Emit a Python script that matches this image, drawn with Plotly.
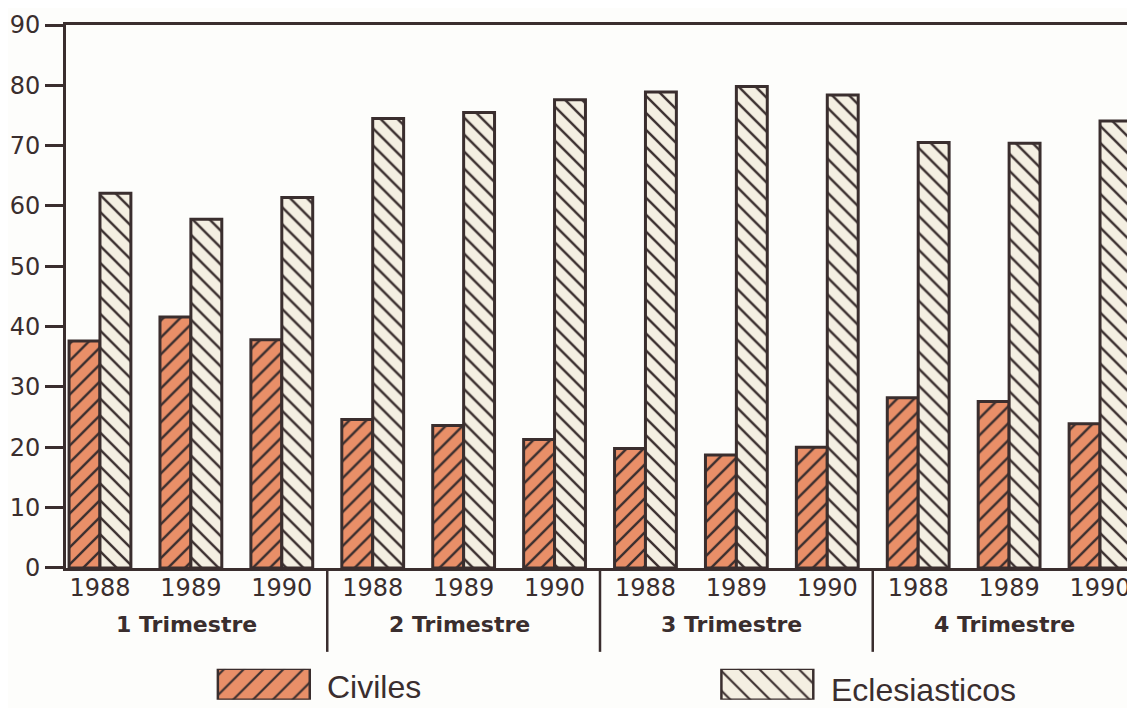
import plotly.graph_objects as go

years = ["1988", "1989", "1990"] * 4
trimestres = ["1 Trimestre", "2 Trimestre", "3 Trimestre", "4 Trimestre"]
civiles = [37.6, 41.6, 37.8, 24.6, 23.6, 21.3, 19.8, 18.7, 20.0, 28.2, 27.6, 23.9]
eclesiasticos = [62.1, 57.8, 61.4, 74.5, 75.5, 77.6, 78.9, 79.8, 78.4, 70.5, 70.4, 74.1]
series_names = ["Civiles", "Eclesiasticos"]
y_ticks = list(range(0, 91, 10))

DARK = "#3a2e2e"
C_FILL = "#e98f68"
E_FILL = "#f4efe2"
FONT = "Liberation Sans"
TFONT = "DejaVu Sans"

# page geometry compensation (body margin + vertical capture scale)
OFF = 8
K = 708.0 / 722.0
W, H = 1127, 706

def fy(t):  # target screenshot y -> figure y
    return t / K - OFF

PLOT_L, PLOT_R = 66, 1133
ML = PLOT_L - OFF
MR = W - (PLOT_R - OFF)
MT = fy(25)
MB = 0
PH = H - MT - MB
PW = W - ML - MR

def py(t):
    return (H - MB - fy(t)) / PH

def px(t):
    return (t - PLOT_L) / PW

xs = list(range(len(years)))

fig = go.Figure()
fig.add_trace(go.Bar(
    x=xs, y=civiles, name=series_names[0], showlegend=False,
    marker=dict(color=C_FILL, line=dict(color=DARK, width=3),
                pattern=dict(shape="/", fgcolor=DARK, bgcolor=C_FILL, size=12, solidity=0.2, fillmode="replace")),
))
fig.add_trace(go.Bar(
    x=xs, y=eclesiasticos, name=series_names[1], showlegend=False,
    marker=dict(color=E_FILL, line=dict(color=DARK, width=3),
                pattern=dict(shape="\\", fgcolor=DARK, bgcolor=E_FILL, size=12, solidity=0.2, fillmode="replace")),
))

# legend swatches drawn on a hidden helper axis
fig.add_trace(go.Bar(
    x=[0], y=[1], width=[0.1825], xaxis="x2", yaxis="y2", showlegend=False, hoverinfo="skip",
    marker=dict(color=C_FILL, line=dict(color=DARK, width=2.5),
                pattern=dict(shape="/", fgcolor=DARK, bgcolor=C_FILL, size=14, solidity=0.15, fillmode="replace")),
))
fig.add_trace(go.Bar(
    x=[1], y=[1], width=[0.1825], xaxis="x2", yaxis="y2", showlegend=False, hoverinfo="skip",
    marker=dict(color=E_FILL, line=dict(color=DARK, width=2.5),
                pattern=dict(shape="\\", fgcolor=DARK, bgcolor=E_FILL, size=14, solidity=0.15, fillmode="replace")),
))

x0 = -(100 - PLOT_L) / 91.0
x1 = 11 + (PLOT_R - 1101) / 91.0

fig.update_layout(
    width=W, height=H,
    margin=dict(l=ML, r=MR, t=MT, b=MB, pad=0),
    paper_bgcolor="#fdfdfb", plot_bgcolor="#fdfdfb",
    barmode="group", bargap=0.32, bargroupgap=0,
    font=dict(family=FONT, color=DARK, size=24),
    xaxis=dict(
        domain=[0, 1], range=[x0, x1],
        tickvals=xs, ticktext=years, ticks="",
        tickfont=dict(size=24, color=DARK, family=TFONT),
        ticklabelstandoff=-4,
        showline=True, linecolor=DARK, linewidth=3, mirror=True,
        showgrid=False, zeroline=False, anchor="y",
    ),
    yaxis=dict(
        domain=[py(568), 1], range=[0, 90],
        tickvals=y_ticks, ticks="outside", ticklen=18, tickwidth=3, tickcolor=DARK,
        tickfont=dict(size=24, color=DARK, family=TFONT),
        showline=True, linecolor=DARK, linewidth=3, mirror=True,
        showgrid=False, zeroline=False, anchor="x",
    ),
    xaxis2=dict(
        domain=[0, 1], range=[-(264 - PLOT_L) / 504.0, 1 + (PLOT_R - 768) / 504.0],
        visible=False, anchor="y2", fixedrange=True,
    ),
    yaxis2=dict(
        domain=[max(py(700), 0), py(669)], range=[0, 1],
        visible=False, anchor="x2", fixedrange=True,
    ),
)

# group labels
for i, t in enumerate(trimestres):
    fig.add_annotation(
        x=3 * i + 0.95, y=py(625), xref="x", yref="paper",
        text="<b>" + t + "</b>", showarrow=False,
        font=dict(size=22, color=DARK, family=TFONT),
        xanchor="center", yanchor="middle",
    )

# group separators
for sep in [2.5, 5.5, 8.5]:
    fig.add_shape(type="line", xref="x", yref="paper",
                  x0=sep, x1=sep, y0=py(570), y1=py(652),
                  line=dict(color=DARK, width=2.5))

# legend labels
fig.add_annotation(x=px(325), y=py(687), xref="paper", yref="paper",
                   text=series_names[0], showarrow=False, xanchor="left", yanchor="middle",
                   font=dict(size=32, color=DARK, family=FONT))
fig.add_annotation(x=px(830), y=py(690), xref="paper", yref="paper",
                   text=series_names[1], showarrow=False, xanchor="left", yanchor="middle",
                   font=dict(size=32, color=DARK, family=FONT))

fig.write_html("out.html")
